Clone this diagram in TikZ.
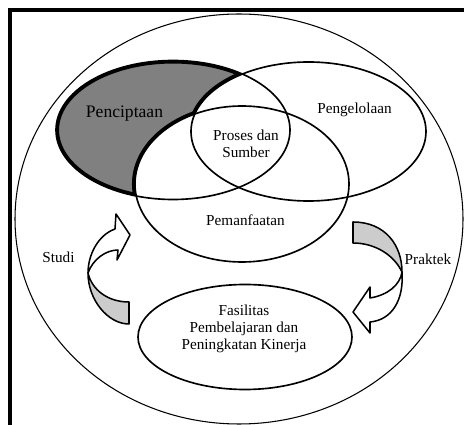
\documentclass[tikz,border=0pt]{standalone}
\usepackage{fontspec}
\setmainfont{Liberation Serif}
\usepackage{tikz}
\usetikzlibrary{positioning}
\definecolor{darkshade}{gray}{0.5}
\definecolor{backside}{gray}{0.8}
\tikzstyle{lbl} = [font=\fontsize{13}{14.5}\selectfont, align=center, inner sep=0pt]
\tikzstyle{setline} = [draw, line width=1.4pt]
\tikzstyle{band} = [draw, line width=1.3pt, line join=round]

\begin{document}
\begin{tikzpicture}[x=0.03cm, y=-0.03cm]
    \useasboundingbox (0,0) rectangle (464,425);
    \clip (0,0) rectangle (464,425);
    \draw[line width=3pt] (10,10) rectangle (480,440);
    \draw[line width=0.9pt] (239,219) ellipse [x radius=224, y radius=205];

    % shaded part of Penciptaan
    \begin{scope}
        \clip (173,130) ellipse [x radius=117, y radius=69.5];
        \fill[darkshade] (173,130) ellipse [x radius=117, y radius=69.5];
        \draw[line width=5.2pt] (173,130) ellipse [x radius=117, y radius=69.5];
        \draw[line width=5.2pt] (308.5,131.5) ellipse [x radius=117.5, y radius=69.5];
        \draw[line width=5.2pt] (242,184) ellipse [x radius=107, y radius=78];
        \fill[white] (308.5,131.5) ellipse [x radius=117.5, y radius=69.5];
        \fill[white] (242,184) ellipse [x radius=107, y radius=78];
    \end{scope}

    \path[setline] (173,130) ellipse [x radius=117, y radius=69.5];
    \path[setline] (308.5,131.5) ellipse [x radius=117.5, y radius=69.5];
    \path[setline] (242,184) ellipse [x radius=107, y radius=78];
    \path[setline] (245,337) ellipse [x radius=107, y radius=52.5];

    % Studi arrow
    \path[band, fill=backside] (129,302) -- (129,324) .. controls (108,324) and (88,300) .. (88,273)
        .. controls (92,290) and (108,302) .. (129,302) -- cycle;
    \path[band, fill=white] (88,273) .. controls (88,255) and (98,235) .. (115,229) -- (116,214) -- (130,235)
        -- (117,260) -- (118,250) .. controls (106,250) and (93,259) .. (88,273) -- cycle;

    % Praktek arrow
    \path[band, fill=backside] (353,222) .. controls (385,222) and (402,245) .. (402,272)
        .. controls (394,255) and (375,243) .. (353,243) -- cycle;
    \path[band, fill=white] (402,272) .. controls (404,300) and (392,320) .. (370,322) -- (370,333) -- (353,312)
        -- (370,287) -- (370,298) .. controls (388,295) and (400,285) .. (402,272) -- cycle;

    \node[lbl, font=\fontsize{15}{17}\selectfont] (cipta) at (124.5,114) {Penciptaan};
    \node[lbl] (kelola) at (354.5,110) {Pengelolaan};
    \node[lbl] (proses) at (246,144) {Proses dan\\Sumber};
    \node[lbl] (manfaat) at (245.5,220) {Pemanfaatan};
    \node[lbl] (studi) at (58.5,257) {Studi};
    \node[lbl] (praktek) at (428,259) {Praktek};
    \node[lbl] (fasilitas) at (244,329) {Fasilitas\\Pembelajaran dan\\Peningkatan Kinerja};
\end{tikzpicture}
\end{document}
